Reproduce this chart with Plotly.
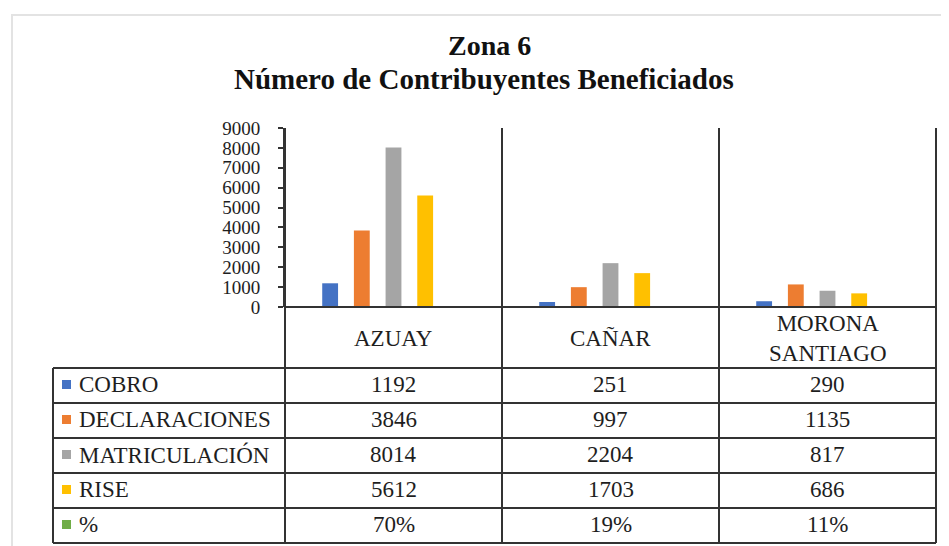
import plotly.graph_objects as go

# ---- data ----
categories = ["AZUAY", "CAÑAR", "MORONA SANTIAGO"]
cobro = [1192, 251, 290]
declaraciones = [3846, 997, 1135]
matriculacion = [8014, 2204, 817]
rise = [5612, 1703, 686]
pct = [70, 19, 11]  # percent
series_names = ["COBRO", "DECLARACIONES", "MATRICULACIÓN", "RISE", "%"]
series_colors = ["#4472C4", "#ED7D31", "#A5A5A5", "#FFC000", "#70AD47"]
y_ticks = [0, 1000, 2000, 3000, 4000, 5000, 6000, 7000, 8000, 9000]

series_values = [cobro, declaraciones, matriculacion, rise, [p / 100 for p in pct]]
series_text = [
    [str(v) for v in cobro],
    [str(v) for v in declaraciones],
    [str(v) for v in matriculacion],
    [str(v) for v in rise],
    [f"{p}%" for p in pct],
]

# ---- layout geometry (screen pixels; page body has an 8px margin) ----
OFF = 8
W, H = 949 - OFF, 546 - OFF
L, R, T, B = 285, 936, 128, 307   # plot area in screen pixels
def px(x):
    return (x - L) / (R - L)
def py(y):
    return (B - y) / (B - T)

SERIF = "Liberation Serif, Times New Roman, serif"
LINE = "#333333"
TXT = "#1e1e1e"

fig = go.Figure()
for name, vals, col in zip(series_names, series_values, series_colors):
    fig.add_trace(go.Bar(x=categories, y=vals, name=name, marker_color=col,
                         marker_line_width=0, showlegend=False))

shapes = []
# outer light frame
shapes.append(dict(type="rect", xref="paper", yref="paper",
                   x0=px(12), x1=px(970), y0=py(15), y1=py(580),
                   line=dict(color="#e3e3e3", width=2), layer="below"))
# vertical separators (plot + table)
for xv in [285, 502, 719, 936]:
    shapes.append(dict(type="line", xref="paper", yref="paper",
                       x0=px(xv), x1=px(xv), y0=py(128), y1=py(543),
                       line=dict(color=LINE, width=2)))
# left border of table
shapes.append(dict(type="line", xref="paper", yref="paper",
                   x0=px(53), x1=px(53), y0=py(368), y1=py(543),
                   line=dict(color=LINE, width=2)))
# zero line / header top
shapes.append(dict(type="line", xref="paper", yref="paper",
                   x0=px(285), x1=px(936), y0=py(307), y1=py(307),
                   line=dict(color=LINE, width=2)))
row_lines = [368, 403, 438, 473, 508, 543]
for yv in row_lines:
    shapes.append(dict(type="line", xref="paper", yref="paper",
                       x0=px(53), x1=px(936), y0=py(yv), y1=py(yv),
                       line=dict(color=LINE, width=2)))

annotations = []
# title
annotations.append(dict(text="<b>Zona 6</b>", xref="paper", yref="paper",
                        x=px(489), y=py(45), showarrow=False,
                        font=dict(family=SERIF, size=28, color="#111"),
                        xanchor="center", yanchor="middle"))
annotations.append(dict(text="<b>Número de Contribuyentes Beneficiados</b>",
                        xref="paper", yref="paper",
                        x=px(484), y=py(79), showarrow=False,
                        font=dict(family=SERIF, size=29, color="#111"),
                        xanchor="center", yanchor="middle"))
# category header
for c in categories:
    annotations.append(dict(text=c.replace(" ", "<br>"), xref="x", yref="paper",
                            x=c, y=py(338), showarrow=False,
                            font=dict(family=SERIF, size=23, color=TXT),
                            xanchor="center", yanchor="middle"))
# table rows
for i, (name, col, txts) in enumerate(zip(series_names, series_colors, series_text)):
    yc = (row_lines[i] + row_lines[i + 1]) / 2 - 1
    shapes.append(dict(type="rect", xref="paper", yref="paper",
                       x0=px(62), x1=px(71), y0=py(yc - 4.5), y1=py(yc + 4.5),
                       fillcolor=col, line=dict(width=0)))
    annotations.append(dict(text=name, xref="paper", yref="paper",
                            x=px(77), y=py(yc), showarrow=False,
                            font=dict(family=SERIF, size=23, color=TXT),
                            xanchor="left", yanchor="middle"))
    for c, t in zip(categories, txts):
        annotations.append(dict(text=t, xref="x", yref="paper",
                                x=c, y=py(yc), showarrow=False,
                                font=dict(family=SERIF, size=23, color=TXT),
                                xanchor="center", yanchor="middle"))

fig.update_layout(
    width=W, height=H,
    margin=dict(l=L - OFF, r=W - (R - OFF), t=T - OFF, b=H - (B - OFF), pad=0),
    paper_bgcolor="white", plot_bgcolor="white",
    barmode="group", bargap=0.27, bargroupgap=0.5,
    shapes=shapes, annotations=annotations,
    showlegend=False,
)
fig.update_xaxes(showticklabels=False, showgrid=False, zeroline=False,
                 showline=False, ticks="")
fig.update_yaxes(range=[0, 9000], tickvals=y_ticks,
                 ticktext=[str(v) for v in y_ticks],
                 showgrid=False, zeroline=False, showline=True,
                 linecolor=LINE, linewidth=2, ticks="outside", ticklen=5,
                 tickcolor=LINE, tickwidth=2,
                 tickfont=dict(family=SERIF, size=19, color=TXT),
                 ticklabelstandoff=14)

fig.write_html("out.html")
